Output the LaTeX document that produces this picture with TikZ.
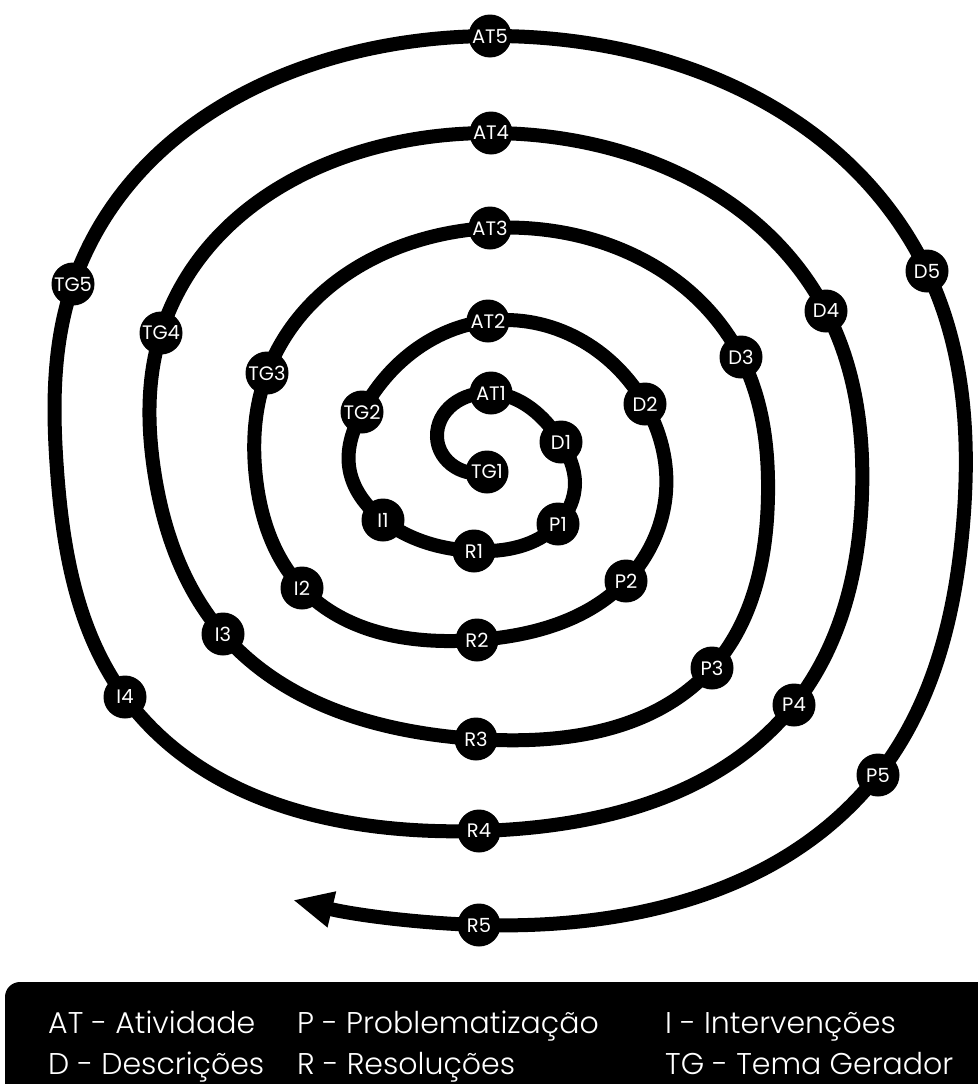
\documentclass[tikz,border=0pt]{standalone}
\usepackage{fontspec}
\setmainfont{Poppins}
\newfontfamily\legfont{Poppins Light}
\usetikzlibrary{arrows.meta,backgrounds,hobby}
\begin{document}
\begin{tikzpicture}[x=1pt,y=-1pt,
  lab/.style={circle,fill=black,text=white,inner sep=0pt,minimum size=43pt,font=\fontsize{19.5}{19.5}\selectfont},
  spiral/.style={line width=14pt,draw=black},
  legtext/.style={text=white,anchor=base west,inner sep=0pt,font=\legfont\fontsize{30}{30}\selectfont}]
\useasboundingbox (0,0) rectangle (977,1084);
% turn 1
\node[lab] (TG1) at (487,472) {TG1};
\node[lab] (AT1) at (491,393) {AT1};
\node[lab] (D1)  at (561,442) {D1};
\node[lab] (P1)  at (558,524) {P1};
\node[lab] (R1)  at (474,551) {R1};
\node[lab] (I1)  at (383,520) {I1};
% turn 2
\node[lab] (TG2) at (362,412) {TG2};
\node[lab] (AT2) at (488,321) {AT2};
\node[lab] (D2)  at (645,404) {D2};
\node[lab] (P2)  at (626,581) {P2};
\node[lab] (R2)  at (477,640) {R2};
\node[lab] (I2)  at (302,588) {I2};
% turn 3
\node[lab] (TG3) at (267,373) {TG3};
\node[lab] (AT3) at (490,228) {AT3};
\node[lab] (D3)  at (741,357) {D3};
\node[lab] (P3)  at (712,668) {P3};
\node[lab] (R3)  at (476,739) {R3};
\node[lab] (I3)  at (223,634) {I3};
% turn 4
\node[lab] (TG4) at (161,333) {TG4};
\node[lab] (AT4) at (491,133) {AT4};
\node[lab] (D4)  at (826,311) {D4};
\node[lab] (P4)  at (794,705) {P4};
\node[lab] (R4)  at (479,831) {R4};
\node[lab] (I4)  at (125,697) {I4};
% turn 5
\node[lab] (TG5) at (73,284) {TG5};
\node[lab] (AT5) at (490,36) {AT5};
\node[lab] (D5)  at (927,271) {D5};
\node[lab] (P5)  at (878,775) {P5};
\node[lab] (R5)  at (479,925) {R5};
% waypoints
\coordinate (h1) at (455,467);
\coordinate (h2) at (437,437);
\coordinate (r1) at (575,483);
\coordinate (l1) at (349,466);
\coordinate (r2) at (666,492);
\coordinate (l2) at (256,478);
\coordinate (r3) at (768,495);
\coordinate (l3) at (154,470);
\coordinate (r4) at (862,495);
\coordinate (l4) at (57,470);
\coordinate (r5) at (963,525);
\coordinate (tip) at (293,900);
\begin{pgfonlayer}{background}
\draw[spiral,-{Triangle[length=40pt,width=34pt]},use Hobby shortcut]
  (TG1.center) .. (h1) .. (h2) .. (AT1.center) .. (D1.center) .. (r1) .. (P1.center) .. (R1.center) .. (I1.center) .. (l1)
  .. (TG2.center) .. (AT2.center) .. (D2.center) .. (r2) .. (P2.center) .. (R2.center) .. (I2.center) .. (l2)
  .. (TG3.center) .. (AT3.center) .. (D3.center) .. (r3) .. (P3.center) .. (R3.center) .. (I3.center) .. (l3)
  .. (TG4.center) .. (AT4.center) .. (D4.center) .. (r4) .. (P4.center) .. (R4.center) .. (I4.center) .. (l4)
  .. (TG5.center) .. (AT5.center) .. (D5.center) .. (r5) .. (P5.center) .. (R5.center) .. (tip);
\end{pgfonlayer}
% legend
\fill[black,rounded corners=15pt] (5,982) rectangle (1000,1100);
\node[legtext] (lAT) at (48,1033) {AT - Atividade};
\node[legtext] (lP)  at (297,1033) {P - Problematização};
\node[legtext] (lI)  at (665,1033) {I - Intervenções};
\node[legtext] (lD)  at (48,1074) {D - Descrições};
\node[legtext] (lR)  at (297,1074) {R - Resoluções};
\node[legtext] (lTG) at (665,1074) {TG - Tema Gerador};
\end{tikzpicture}
\end{document}
